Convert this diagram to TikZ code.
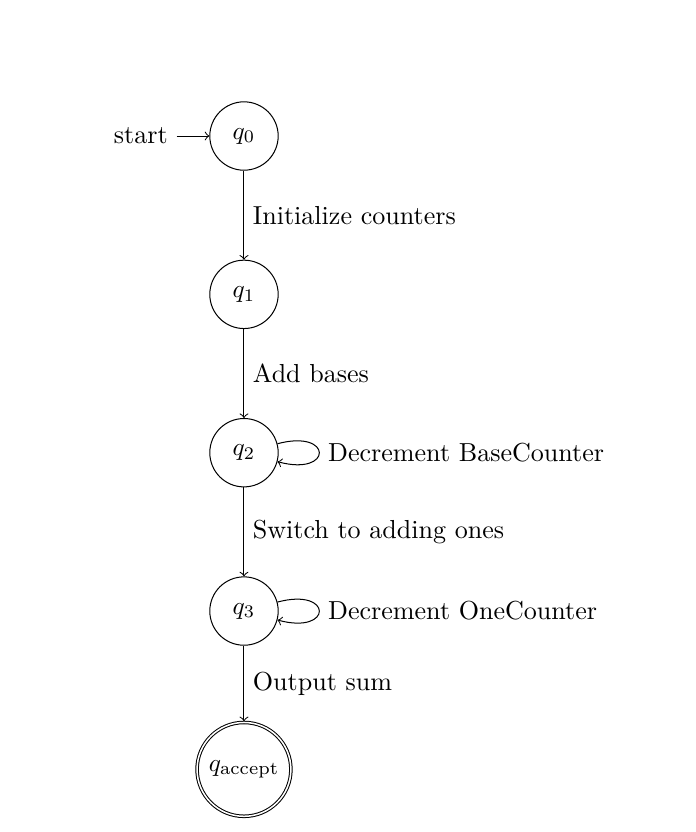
\documentclass[tikz,border=0pt]{standalone}
\usepackage{amsmath}
\usetikzlibrary{automata, positioning}

\begin{document}
\begin{tikzpicture}[
    ->,
    node distance=2.2cm,
    on grid,
    font=\fontsize{10.3pt}{12pt}\selectfont,
    every state/.style={minimum size=0.95cm},
    lbl/.style={right},
]
\useasboundingbox (-3.39, 1.89) rectangle (6.28, -9.67);
% === States ===
\node[state, initial] (q0) {$q_0$};
\node[state, below=of q0] (q1) {$q_1$};
\node[state, below=of q1] (q2) {$q_2$};
\node[state, below=of q2] (q3) {$q_3$};
\node[state, accepting, below=of q3] (qacc) {$q_{\text{accept}}$};
% === Transitions ===
\draw (q0) -- node[lbl] {Initialize counters} (q1);
\draw (q1) -- node[lbl] {Add bases} (q2);
\draw (q2) edge[loop right, min distance=8mm] node[right] {Decrement BaseCounter} (q2);
\draw (q2) -- node[lbl] {Switch to adding ones} (q3);
\draw (q3) edge[loop right, min distance=8mm] node[right] {Decrement OneCounter} (q3);
\draw (q3) -- node[lbl] {Output sum} (qacc);
\end{tikzpicture}
\end{document}
